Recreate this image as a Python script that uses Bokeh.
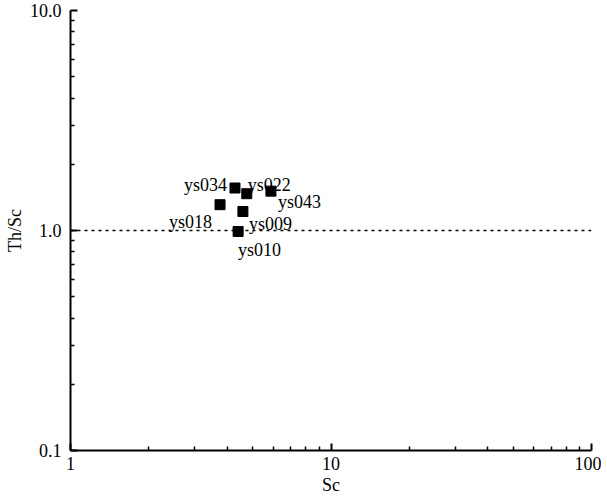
from bokeh.plotting import figure
from bokeh.models import (Range1d, FixedTicker, PrintfTickFormatter, Span,
                          ColumnDataSource)
from bokeh.core.properties import value
from bokeh.embed import file_html
from bokeh.resources import INLINE

# ---- data ----
samples = ["ys034", "ys022", "ys043", "ys018", "ys009", "ys010"]
sc = [4.28, 4.75, 5.88, 3.75, 4.59, 4.40]
th_sc = [1.56, 1.47, 1.51, 1.31, 1.22, 0.99]
x_major = [1, 10, 100]
x_minor = [2, 3, 4, 5, 6, 7, 8, 9, 20, 30, 40, 50, 60, 70, 80, 90]
y_major = [0.1, 1, 10]
y_minor = [0.2, 0.3, 0.4, 0.5, 0.6, 0.7, 0.8, 0.9, 2, 3, 4, 5, 6, 7, 8, 9]
ref_level = 1.0

# ---- label placement styles (screen pixels) ----
label_dx = [-8, 1, 7, -8, 6, 0]
label_dy = [-3, -9, 11, 17, 12, 19]
label_align = ["right", "left", "left", "right", "left", "left"]

FONT = "Liberation Serif"
FS = "18px"

p = figure(width=601, height=497, x_axis_type="log", y_axis_type="log",
           x_range=Range1d(1, 100), y_range=Range1d(0.1, 10),
           output_backend="svg", toolbar_location=None,
           min_border_left=70, min_border_right=10, min_border_top=10,
           min_border_bottom=44)
p.outline_line_color = None
p.xgrid.visible = False
p.ygrid.visible = False
p.background_fill_color = "white"
p.border_fill_color = "white"

p.xaxis.ticker = FixedTicker(ticks=x_major, minor_ticks=x_minor)
p.yaxis.ticker = FixedTicker(ticks=y_major, minor_ticks=y_minor)
p.xaxis.formatter = PrintfTickFormatter(format="%d")
p.yaxis.formatter = PrintfTickFormatter(format="%.1f")
p.xaxis.axis_label = "Sc"
p.yaxis.axis_label = "Th/Sc"

for ax in (p.xaxis[0], p.yaxis[0]):
    ax.axis_line_width = 2
    ax.axis_line_color = "black"
    ax.major_tick_in = 7
    ax.major_tick_out = 0
    ax.minor_tick_in = 4
    ax.minor_tick_out = 0
    ax.major_tick_line_width = 2
    ax.minor_tick_line_width = 1.5
    ax.major_tick_line_color = "black"
    ax.minor_tick_line_color = "black"
    ax.major_label_text_font = FONT
    ax.major_label_text_font_size = FS
    ax.major_label_text_color = "black"
    ax.axis_label_text_font = FONT
    ax.axis_label_text_font_size = FS
    ax.axis_label_text_font_style = "normal"
    ax.axis_label_text_color = "black"

p.xaxis.major_label_standoff = 6
p.xaxis.axis_label_standoff = 2
p.yaxis.major_label_standoff = 9
p.yaxis.axis_label_standoff = 2

p.add_layout(Span(location=ref_level, dimension="width", line_color="black",
                  line_width=1.5, line_dash="3 4"))

src = ColumnDataSource(dict(x=sc, y=th_sc, name=samples, dx=label_dx,
                            dy=label_dy, align=label_align))
p.scatter("x", "y", source=src, marker="square", size=10,
          fill_color="black", line_color="black")
p.text("x", "y", text="name", source=src, x_offset="dx", y_offset="dy",
       text_align="align", text_baseline="alphabetic",
       text_font=value(FONT), text_font_size=FS, text_color="black")

open("out.html", "w").write(file_html(p, INLINE))
